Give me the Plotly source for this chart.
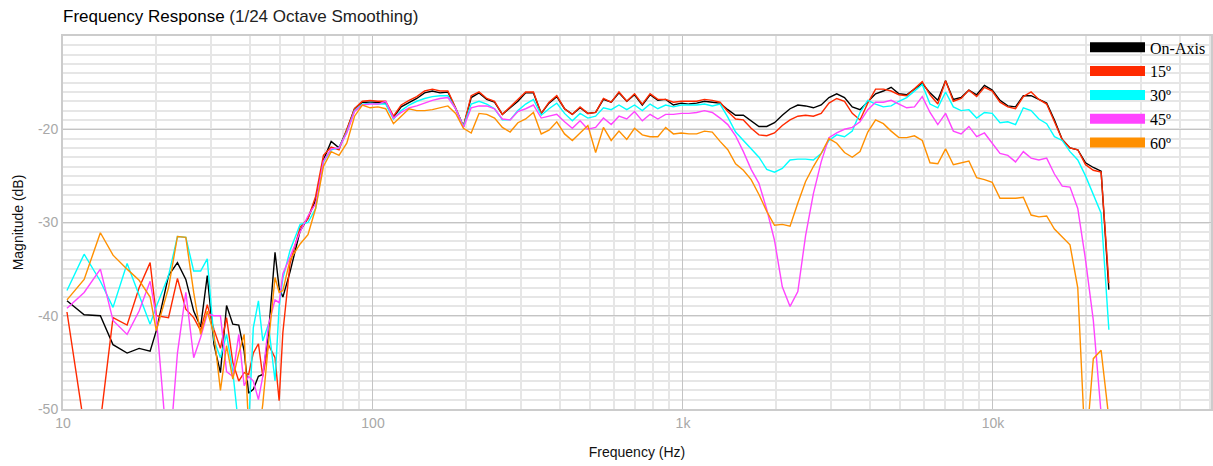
import plotly.graph_objects as go

# ---------------- data ----------------
freq = [
    10.3, 11.7, 13.2, 14.5, 16.1, 17.6, 19.1, 20.0, 21.9, 23.4,
    24.9, 26.4, 27.8, 29.2, 30.7, 32.2, 33.7, 35.3, 36.9, 38.4,
    39.7, 41.1, 42.7, 44.1, 46.0, 48.3, 49.8, 51.2, 54.0,
    58.2, 61.7, 65.3, 69.2, 73.3, 77.7, 82.3, 87.2, 92.4, 97.9,
    103.7, 109.9, 116.4, 123.3, 130.7, 138.4, 146.7, 155.4, 164.6, 174.4,
    184.8, 195.8, 207.4, 219.8, 232.8, 246.7, 261.4, 276.9, 293.4, 310.8,
    329.3, 348.9, 369.6, 391.6, 414.9, 439.6, 465.7, 493.4, 522.7, 553.8,
    586.7, 621.6, 658.6, 697.7, 739.2, 783.2, 829.7, 879.1, 931.3, 986.7,
    1045, 1107, 1173, 1243, 1317, 1395, 1478, 1566, 1659, 1758,
    1863, 1973, 2091, 2215, 2347, 2486, 2634, 2791, 2957, 3133,
    3319, 3516, 3725, 3946, 4181, 4430, 4693, 4972, 5268, 5581,
    5913, 6264, 6637, 7032, 7450, 7893, 8362, 8859, 9386, 9944,
    10535, 11162, 11825, 12528, 13273, 14063, 14899, 15785, 16724, 17718,
    18772, 19888, 21071, 22324, 23651,
]

on_axis = [
    -38.4, -39.9, -40.0, -43.1, -44.0, -43.5, -43.8, -41.6, -35.7, -34.3,
    -36.1, -39.5, -41.2, -35.7, -43.1, -46.1, -38.9, -40.9, -41.0, -43.8,
    -48.3, -47.9, -46.5, -46.3, -42.0, -33.2, -37.0, -38.0, -35.3,
    -30.9, -29.5, -27.6, -23.3, -21.3, -22.0, -20.1, -17.8, -17.1, -17.1,
    -17.1, -17.2, -18.7, -17.6, -17.1, -16.7, -16.1, -15.9, -16.1, -16.0,
    -17.8, -19.7, -16.6, -16.1, -16.8, -17.1, -18.4, -17.7, -17.0, -16.1,
    -16.1, -18.3, -17.2, -16.5, -17.8, -18.4, -17.7, -18.3, -18.2, -16.8,
    -17.1, -16.1, -17.0, -16.3, -17.4, -16.3, -16.9, -16.8, -17.4, -17.2,
    -17.3, -17.2, -17.0, -17.1, -17.2, -17.9, -18.5, -18.5, -19.1, -19.7,
    -19.7, -19.3, -18.5, -17.8, -17.4, -17.5, -17.7, -17.4, -16.6, -16.2,
    -16.6, -17.6, -17.9, -17.0, -16.2, -15.9, -15.5, -16.2, -16.3, -15.7,
    -15.1, -16.1, -16.9, -14.8, -16.8, -16.6, -15.8, -16.3, -15.3, -15.8,
    -16.9, -17.5, -17.6, -16.4, -16.4, -16.8, -17.2, -19.0, -21.1, -22.0,
    -22.2, -23.6, -24.1, -24.5, -37.2,
]

deg15 = [
    -39.6, -51.8, -51.4, -40.2, -41.0, -37.0, -34.3, -40.0, -40.2, -36.0,
    -39.3, -40.2, -41.6, -38.8, -41.5, -43.5, -40.2, -45.0, -47.0, -46.1,
    -46.3, -44.0, -43.0, -46.5, -43.1, -44.5, -49.1, -41.8, -34.4,
    -30.5, -29.6, -27.2, -22.8, -21.9, -22.2, -20.0, -17.8, -17.0, -16.9,
    -17.0, -17.0, -18.6, -17.4, -16.9, -16.5, -15.9, -15.7, -15.9, -15.9,
    -17.7, -19.7, -16.4, -16.0, -16.7, -17.0, -18.4, -17.6, -16.9, -16.0,
    -16.0, -18.3, -17.1, -16.4, -17.8, -18.4, -17.6, -18.3, -18.2, -16.7,
    -17.1, -16.0, -17.0, -16.2, -17.3, -16.2, -16.8, -16.8, -17.1, -17.0,
    -17.0, -17.0, -16.8, -16.9, -17.1, -18.1, -18.9, -19.0, -19.9, -20.6,
    -20.7, -20.4, -19.6, -19.0, -18.6, -18.5, -18.6, -18.3, -17.2, -16.7,
    -17.0, -18.3, -19.0, -17.2, -15.7, -15.7, -15.9, -16.3, -16.4, -15.6,
    -14.9, -16.3, -17.3, -14.8, -17.0, -16.7, -15.8, -16.5, -15.5, -15.9,
    -17.1, -17.6, -17.8, -16.5, -16.0, -16.8, -17.3, -19.2, -21.1, -22.0,
    -22.2, -23.8, -24.4, -24.6, -36.5,
]

deg30 = [
    -37.3, -33.4, -36.3, -39.1, -34.4, -37.9, -40.9, -39.0, -35.7, -31.5,
    -31.6, -35.2, -35.2, -33.9, -42.6, -44.5, -42.0, -46.0, -52.0, -55.0,
    -52.0, -41.3, -38.4, -42.7, -40.9, -47.0, -39.0, -36.0, -33.0,
    -30.2, -30.0, -28.5, -23.5, -22.2, -22.0, -20.3, -18.0, -17.3, -17.2,
    -17.3, -17.3, -18.9, -18.0, -17.4, -17.0, -16.7, -16.5, -16.4, -16.4,
    -17.8, -19.7, -17.3, -17.0, -17.3, -17.8, -19.0, -19.0, -18.0, -17.3,
    -16.8, -18.5, -17.8, -17.2, -18.3, -19.1, -18.3, -18.8, -18.6, -17.7,
    -17.9, -17.4, -17.9, -17.4, -18.0, -17.3, -17.8, -17.4, -17.6, -17.4,
    -17.4, -17.4, -17.3, -17.5, -17.3, -18.7, -20.3, -21.2, -22.2, -23.0,
    -24.3, -24.6, -24.2, -23.3, -23.2, -23.2, -23.3, -22.6, -21.2, -20.6,
    -20.8, -20.2, -18.2, -16.9, -17.3, -17.6, -17.5, -17.0, -16.6, -15.9,
    -15.2, -17.3, -17.7, -16.0, -17.6, -18.0, -17.9, -18.8, -18.2, -18.3,
    -19.3, -19.2, -19.5, -17.7, -18.0, -18.9, -19.4, -20.8, -21.2, -22.4,
    -23.3, -25.0, -27.0, -29.0, -41.5,
]

deg45 = [
    -39.2, -37.5, -35.0, -40.5, -42.0, -39.5, -36.3, -40.2, -56.0, -44.0,
    -37.5, -44.5, -42.3, -39.8, -40.0, -40.0, -46.0, -46.5, -42.0, -47.5,
    -46.5, -47.0, -49.0, -46.5, -41.0, -38.3, -38.6, -35.5, -33.7,
    -31.0, -29.3, -28.0, -23.4, -22.1, -22.0, -20.4, -18.1, -17.4, -17.3,
    -17.3, -17.0, -18.8, -18.2, -17.7, -17.5, -17.2, -16.9, -16.7, -16.6,
    -17.8, -19.8, -17.7, -17.5, -17.5, -17.8, -18.9, -19.0, -18.1, -17.8,
    -17.4, -18.8, -18.6, -18.4, -19.2, -19.9, -19.1, -20.0, -19.8, -18.8,
    -19.5, -18.6, -18.9, -18.1, -19.1, -18.4, -18.9, -18.4, -18.4, -18.3,
    -18.3, -18.2, -18.0, -18.2, -18.8, -19.5, -20.7, -22.4, -24.3, -25.8,
    -28.6, -31.9, -36.9, -39.0, -37.4, -31.4, -26.9, -23.5, -20.9, -20.4,
    -20.0, -19.8, -19.2, -17.9, -17.1, -17.1, -16.9, -17.3, -17.7, -17.6,
    -16.5, -18.2, -19.5, -18.3, -20.2, -20.5, -19.7, -20.8, -20.4, -21.5,
    -22.6, -22.8, -23.5, -22.4, -23.1, -23.3, -23.1, -24.8, -26.1, -26.2,
    -28.5, -34.0, -40.5, -50.5, -62.0,
]

deg60 = [
    -38.3, -36.1, -31.1, -33.5, -35.0, -36.2, -38.0, -41.6, -37.0, -31.5,
    -31.6, -37.5, -42.0, -39.5, -42.0, -48.0, -43.2, -46.8, -44.0, -42.0,
    -52.0, -55.0, -53.0, -49.5, -43.0, -35.9, -37.5, -37.3, -34.0,
    -32.3, -31.3, -28.5, -24.0, -22.4, -22.8, -21.5, -18.6, -17.4, -17.7,
    -17.6, -17.8, -19.4, -18.6, -17.8, -18.0, -18.0, -17.9, -17.7, -17.5,
    -18.3, -19.9, -20.4, -18.3, -18.4, -18.8, -19.8, -20.3, -19.3, -18.9,
    -18.2, -20.5, -20.1, -19.2, -20.5, -21.2, -20.4, -19.6, -22.5, -19.8,
    -21.2, -20.2, -21.1, -19.9, -20.6, -20.8, -20.8, -19.8, -20.5, -20.4,
    -20.5, -20.5, -20.2, -20.3, -21.3, -22.2, -23.7, -24.4, -25.4, -27.0,
    -28.8, -30.3, -30.2, -30.4, -27.9, -25.6, -24.0, -22.6, -21.0, -21.5,
    -22.5, -23.0, -22.4, -20.3, -19.0, -19.4, -20.2, -20.9, -20.9, -20.7,
    -21.2, -23.6, -23.7, -22.1, -23.8, -23.6, -23.4, -25.2, -25.4, -25.7,
    -27.4, -27.4, -27.4, -27.3, -29.2, -29.4, -29.3, -30.7, -31.6, -32.4,
    -37.0, -55.0, -44.6, -43.7, -51.0,
]

series_names = ["On-Axis", "15º", "30º", "45º", "60º"]
series_values = [on_axis, deg15, deg30, deg45, deg60]
series_colors = ["#000000", "#ff2a00", "#00ffff", "#ff44ff", "#ff9000"]

x_tick_vals = [10, 100, 1000, 10000]
x_tick_text = ["10", "100", "1k", "10k"]
y_tick_vals = [-50, -40, -30, -20]
y_tick_text = ["-50", "-40", "-30", "-20"]

for v in series_values:
    assert len(v) == len(freq), (len(v), len(freq))

# ---------------- figure ----------------
fig = go.Figure()

for i in range(len(series_values)):
    fig.add_trace(go.Scatter(
        x=freq, y=series_values[i], mode="lines",
        line=dict(color=series_colors[i], width=1.4),
        name=series_names[i], showlegend=False, hoverinfo="skip",
    ))

# legend entries (thick bars)
for name, col in zip(series_names, series_colors):
    fig.add_trace(go.Scatter(
        x=[None], y=[None], mode="lines",
        line=dict(color=col, width=11), name=name, showlegend=True,
    ))

minor_x = [m * 10 ** e for e in range(1, 5) for m in range(2, 10)]

axis_font = dict(family="Liberation Sans, Arial, sans-serif", size=14, color="#a8a8a8")

fig.update_layout(
    width=1213, height=466,
    margin=dict(l=63, r=2, t=36, b=57),
    paper_bgcolor="white", plot_bgcolor="white",
    title=dict(
        text="Frequency Response <span style='font-weight:300;color:#222'>(1/24 Octave Smoothing)</span>",
        x=63 / 1213, xref="container", xanchor="left",
        y=1 - 16 / 466, yref="container", yanchor="middle",
        font=dict(family="Liberation Sans, Arial, sans-serif", size=17, color="#000"),
    ),
    legend=dict(
        x=1, xanchor="right", y=1.015, yanchor="top",
        bgcolor="rgba(0,0,0,0)",
        font=dict(family="Liberation Serif, Times New Roman, serif", size=16, color="#000"),
        itemwidth=55, tracegroupgap=0,
    ),
    xaxis=dict(
        type="log", range=[1, 4.7033],
        tickvals=x_tick_vals, ticktext=x_tick_text,
        showgrid=True, gridcolor="#c4c4c4", gridwidth=1,
        minor=dict(tickvals=minor_x, showgrid=True, gridcolor="#e6e6e6", gridwidth=1.5),
        showline=True, mirror=True, linecolor="#cccccc", linewidth=2,
        ticks="", zeroline=False, tickfont=axis_font, automargin=False,
        title=dict(text="Frequency (Hz)", standoff=17,
                   font=dict(family="Liberation Sans, Arial, sans-serif", size=14, color="#111")),
    ),
    yaxis=dict(
        range=[-50, -10], tickvals=y_tick_vals, ticktext=y_tick_text,
        showgrid=True, gridcolor="#c4c4c4", gridwidth=1,
        minor=dict(dtick=1, showgrid=True, gridcolor="#e6e6e6", gridwidth=1.5),
        showline=True, mirror=True, linecolor="#cccccc", linewidth=2,
        ticks="", zeroline=False, tickfont=axis_font, automargin=False,
        title=dict(text="Magnitude (dB)", standoff=11,
                   font=dict(family="Liberation Sans, Arial, sans-serif", size=14, color="#111")),
    ),
)

fig.write_html(
    "out.html",
    config={"displayModeBar": False},
    post_script="document.body.style.margin='0';document.body.style.padding='0';",
)
